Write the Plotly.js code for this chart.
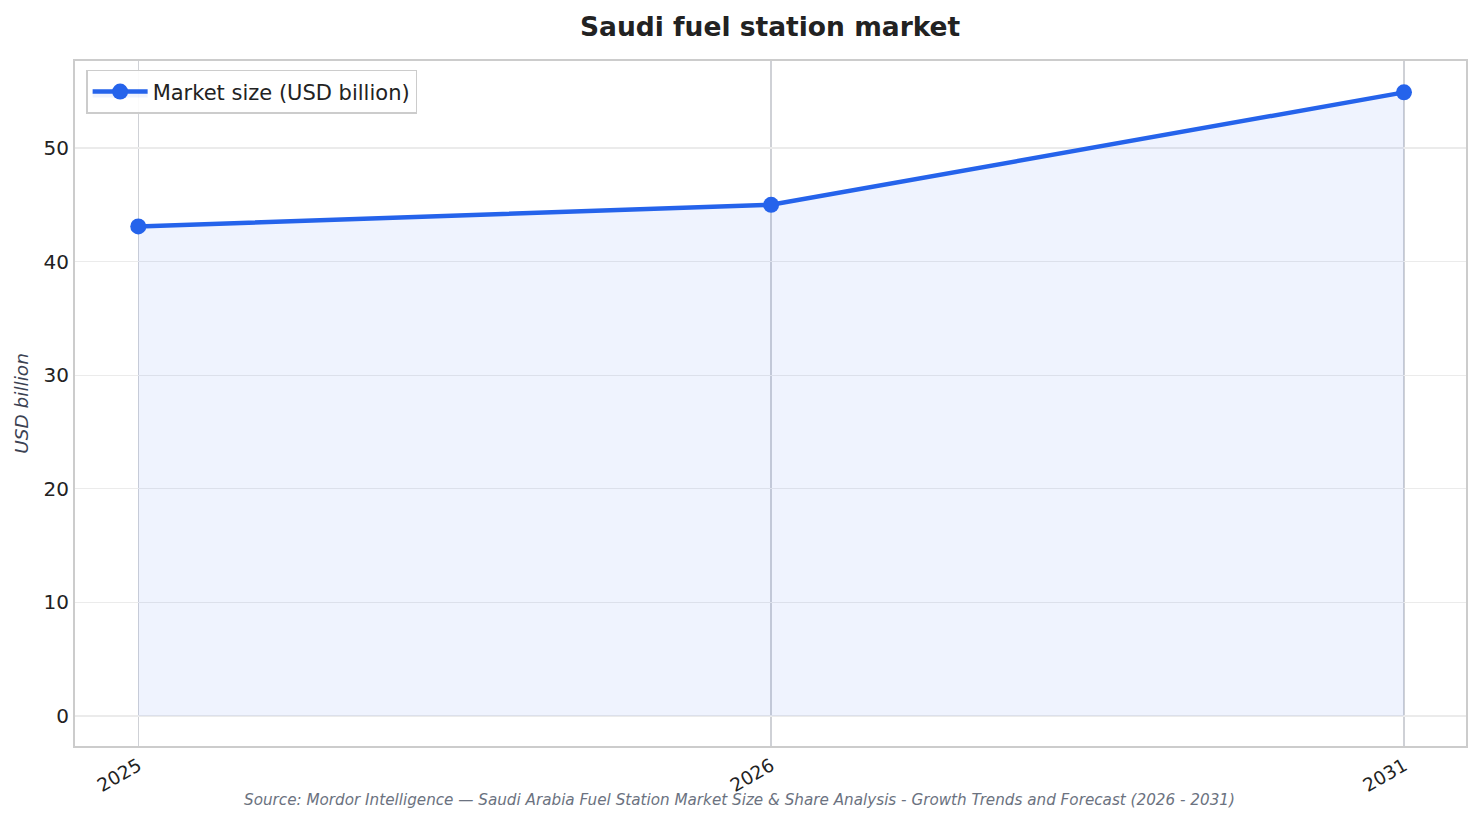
<!DOCTYPE html>
<html>
<head>
<meta charset="utf-8">
<script src="https://cdn.plot.ly/plotly-3.0.1.min.js"></script>
<style>
  html, body { margin: 0; padding: 0; background: #fff; }
  #chart { width: 1481px; height: 824px; }
</style>
</head>
<body>
<div id="chart"></div>
<script>
    'use strict';

    // values
    var years = ['2025', '2026', '2031'];
    var marketSize = [43.1, 45.0, 54.9];
    var seriesName = 'Market size (USD billion)';
    var yTicks = [0, 10, 20, 30, 40, 50];
    var sourceText = 'Source: Mordor Intelligence — Saudi Arabia Fuel Station Market Size & Share Analysis - Growth Trends and Forecast (2026 - 2031)';

    var font = 'DejaVu Sans, Verdana, sans-serif';

    var trace = {
        x: years,
        y: marketSize,
        type: 'scatter',
        mode: 'lines+markers',
        name: seriesName,
        fill: 'tozeroy',
        fillcolor: 'rgba(37,99,235,0.075)',
        line: { color: '#2563eb', width: 4.5 },
        marker: { color: '#2563eb', size: 16 }
    };

    var layout = {
        width: 1481,
        height: 824,
        margin: { l: 75, r: 15, t: 61, b: 78 },
        paper_bgcolor: '#ffffff',
        plot_bgcolor: '#ffffff',
        font: { family: font, color: '#222222', size: 18 },
        title: {
            text: '<b>Saudi fuel station market</b>',
            font: { family: font, size: 26.5, color: '#222222' },
            x: 0.52,
            xanchor: 'center',
            y: 0.968,
            yanchor: 'middle'
        },
        xaxis: {
            type: 'category',
            range: [-0.1, 2.098],
            tickangle: -30,
            showgrid: true,
            gridcolor: '#cfd1d6',
            gridwidth: 1.5,
            showline: true,
            linecolor: '#cccccc',
            linewidth: 2,
            mirror: true,
            ticks: '',
            zeroline: false,
            tickfont: { family: font, size: 18.5, color: '#222222' }
        },
        yaxis: {
            range: [-2.64, 57.66],
            tickvals: yTicks,
            showgrid: true,
            gridcolor: '#ebebeb',
            gridwidth: 1.2,
            showline: true,
            linecolor: '#cccccc',
            linewidth: 2,
            mirror: true,
            ticks: '',
            ticklabelstandoff: 0,
            zeroline: false,
            tickfont: { family: font, size: 20, color: '#222222' },
            title: {
                text: '<i>USD billion</i>',
                font: { family: font, size: 18.5, color: '#3b4252' },
                standoff: 10
            }
        },
        showlegend: true,
        legend: {
            x: 0.008,
            y: 0.987,
            xanchor: 'left',
            yanchor: 'top',
            bgcolor: 'rgba(255,255,255,0.9)',
            bordercolor: '#cccccc',
            borderwidth: 1.5,
            itemwidth: 55,
            font: { family: font, size: 21, color: '#222222' }
        },
        annotations: [{
            text: '<i>' + sourceText + '</i>',
            xref: 'paper',
            yref: 'paper',
            x: 0.478,
            y: -0.079,
            xanchor: 'center',
            yanchor: 'middle',
            showarrow: false,
            font: { family: font, size: 15.2, color: '#6b7280' }
        }]
    };

    var config = { displaylogo: false, displayModeBar: false, staticPlot: true };

    Plotly.newPlot('chart', [trace], layout, config);
</script>
</body>
</html>
